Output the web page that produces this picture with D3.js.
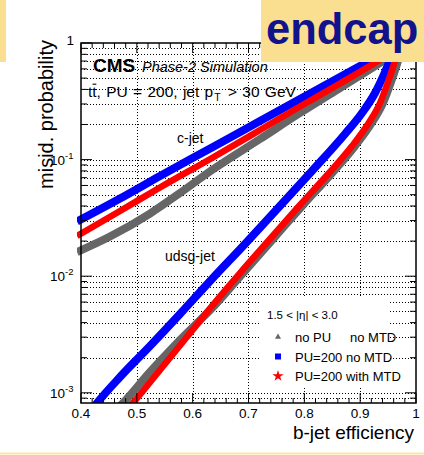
<!DOCTYPE html>
<html><head><meta charset="utf-8">
<script src="https://cdn.jsdelivr.net/npm/d3@7/dist/d3.min.js"></script>
<style>
body{margin:0;background:#fff}
svg{display:block}
text{font-family:"Liberation Sans",Arial,Helvetica,sans-serif;fill:#000}
</style>
</head><body>
<svg id="c" width="424" height="455"></svg>
<script>
// ---------------- data (b-jet efficiency, misid. probability) ----------------
const xTickValues = [0.4, 0.5, 0.6, 0.7, 0.8, 0.9, 1.0];
const xTickLabels = ["0.4", "0.5", "0.6", "0.7", "0.8", "0.9", "1"];
const yTickValues = [1e-3, 1e-2, 1e-1, 1];
const yTickExponents = ["-3", "-2", "-1", ""];
const seriesLabels = ["no PU", "PU=200 no MTD", "PU=200 with MTD"];
const seriesColors = ["#666666", "#0000ff", "#ff0000"];
const etaLabel = "1.5 < |η| < 3.0";

// c-jet misidentification curves
const cjetNoPUEff  = [0.3928, 0.4519, 0.5236, 0.5773, 0.6346, 0.7206, 0.7922, 0.8639, 0.9230, 0.9893];
const cjetNoPUMis  = [0.01612, 0.02190, 0.03449, 0.05171, 0.08144, 0.1502, 0.2510, 0.4113, 0.6165, 1.0];
const cjetPU200Eff = [0.3928, 0.4699, 0.5415, 0.6346, 0.7206, 0.7922, 0.8639, 0.9230, 0.9749];
const cjetPU200Mis = [0.02944, 0.04638, 0.07233, 0.1270, 0.2143, 0.3309, 0.5110, 0.7292, 1.0];
const cjetMTDEff   = [0.3928, 0.4699, 0.5415, 0.6346, 0.7206, 0.7922, 0.8639, 0.9230, 0.9803];
const cjetMTDMis   = [0.02213, 0.03624, 0.05763, 0.1032, 0.1794, 0.2853, 0.4494, 0.6605, 1.0];

// udsg-jet misidentification curves
const udsgNoPUEff  = [0.4591, 0.4752, 0.5236, 0.5773, 0.6400, 0.6902, 0.7439, 0.7976, 0.8496, 0.8908, 0.9194, 0.9409, 0.9552, 0.9660, 0.9767];
const udsgNoPUMis  = [0.000684, 0.000818, 0.001508, 0.002836, 0.005662, 0.01065, 0.02084, 0.04079, 0.07676, 0.1308, 0.2020, 0.3058, 0.4628, 0.6605, 1.0];
const udsgPU200Eff = [0.4161, 0.4287, 0.4699, 0.5236, 0.5773, 0.6346, 0.6937, 0.7546, 0.8137, 0.8728, 0.9033, 0.9266, 0.9445, 0.9570, 0.9660];
const udsgPU200Mis = [0.000684, 0.000818, 0.001366, 0.002520, 0.004740, 0.009462, 0.01889, 0.03923, 0.07985, 0.1658, 0.2510, 0.3726, 0.5640, 0.7891, 1.0];
const udsgMTDEff   = [0.4788, 0.4931, 0.5415, 0.5881, 0.6346, 0.6848, 0.7385, 0.7922, 0.8442, 0.8854, 0.9140, 0.9355, 0.9498, 0.9606, 0.9713];
const udsgMTDMis   = [0.000684, 0.000818, 0.001569, 0.002951, 0.005553, 0.01065, 0.02084, 0.04079, 0.07676, 0.1308, 0.2020, 0.3058, 0.4628, 0.6605, 1.0];

// dashed working-point line level (misid. probability)
const workingPoint = 0.0052;

// ---------------- drawing ----------------
const svg = d3.select("#c");
const X0 = 81, X1 = 416, Y0 = 43, Y1 = 403;
const x = d3.scaleLinear().domain([0.4, 1.0]).range([X0, X1]);
const y = d3.scaleLog().domain([Math.pow(10, -3.0875), 1]).range([Y1, Y0]);

const defs = svg.append("defs");
defs.append("clipPath").attr("id", "plotclip")
  .append("rect").attr("x", 77).attr("y", 20).attr("width", 345).attr("height", Y1 - 20);
const f = defs.append("filter").attr("id", "shadow").attr("x", "-20%").attr("y", "-100%").attr("width", "140%").attr("height", "400%");
f.append("feGaussianBlur").attr("in", "SourceAlpha").attr("stdDeviation", 2).attr("result", "b");
f.append("feOffset").attr("in", "b").attr("dx", 0).attr("dy", 5).attr("result", "o");
f.append("feFlood").attr("flood-color", "#777").attr("flood-opacity", 0.55);
f.append("feComposite").attr("in2", "o").attr("operator", "in").attr("result", "s");
const fm = f.append("feMerge");
fm.append("feMergeNode").attr("in", "s");
fm.append("feMergeNode").attr("in", "SourceGraphic");

// grid
const grid = svg.append("g").attr("stroke", "#000").attr("stroke-width", 1).attr("stroke-dasharray", "1,2");
const yGridVals = y.ticks().filter(v => v < 0.999 && v > y.domain()[0]);
grid.selectAll("line.h").data(yGridVals).join("line")
  .attr("x1", X0).attr("x2", X1).attr("y1", d => Math.round(y(d)) + 0.5).attr("y2", d => Math.round(y(d)) + 0.5);
grid.selectAll("line.v").data(xTickValues.slice(1, -1)).join("line")
  .attr("y1", Y0).attr("y2", Y1).attr("x1", d => Math.round(x(d)) + 0.5).attr("x2", d => Math.round(x(d)) + 0.5);

// curves
const line = d3.line().x(d => x(d[0])).y(d => y(d[1])).curve(d3.curveMonotoneX);
const zip = (a, b) => a.map((v, i) => [v, b[i]]);
const curves = [
  {d: zip(cjetNoPUEff, cjetNoPUMis), c: seriesColors[0], w: 8},
  {d: zip(udsgNoPUEff, udsgNoPUMis), c: seriesColors[0], w: 8},
  {d: zip(cjetPU200Eff, cjetPU200Mis), c: seriesColors[1], w: 8},
  {d: zip(udsgPU200Eff, udsgPU200Mis), c: seriesColors[1], w: 8},
  {d: zip(cjetMTDEff, cjetMTDMis), c: seriesColors[2], w: 6.5},
  {d: zip(udsgMTDEff, udsgMTDMis), c: seriesColors[2], w: 6.5}
];
svg.append("g").attr("clip-path", "url(#plotclip)")
  .selectAll("path").data(curves).join("path")
  .attr("d", d => line(d.d)).attr("fill", "none")
  .attr("stroke", d => d.c).attr("stroke-width", d => d.w);

// axes: frame + ticks
const ax = svg.append("g").attr("stroke", "#000");
ax.append("rect").attr("x", X0).attr("y", Y0).attr("width", X1 - X0).attr("height", Y1 - Y0)
  .attr("fill", "none").attr("stroke-width", 1.5);
const xMinor = d3.range(0, 31).map(i => 0.4 + i * 0.02);
const isMajX = d => xTickValues.some(m => Math.abs(m - d) < 1e-6);
const tk = ax.append("g").attr("stroke-width", 1);
tk.selectAll("line.xb").data(xMinor).join("line")
  .attr("x1", d => x(d)).attr("x2", d => x(d))
  .attr("y1", Y1).attr("y2", d => Y1 - (isMajX(d) ? 10 : 5));
tk.selectAll("line.xt").data(xMinor).join("line")
  .attr("x1", d => x(d)).attr("x2", d => x(d))
  .attr("y1", Y0).attr("y2", d => Y0 + (isMajX(d) ? 10 : 5));
const yAll = y.ticks().filter(v => v >= y.domain()[0]);
const isMajY = v => Math.abs(Math.log10(v) - Math.round(Math.log10(v))) < 1e-6;
tk.selectAll("line.yl").data(yAll).join("line")
  .attr("y1", d => y(d)).attr("y2", d => y(d))
  .attr("x1", X0).attr("x2", d => X0 + (isMajY(d) ? 11 : 6));
tk.selectAll("line.yr").data(yAll).join("line")
  .attr("y1", d => y(d)).attr("y2", d => y(d))
  .attr("x1", X1).attr("x2", d => X1 - (isMajY(d) ? 11 : 6));

// tick labels
svg.append("g").selectAll("text").data(xTickValues).join("text")
  .attr("x", d => x(d)).attr("y", 417.5).attr("text-anchor", "middle")
  .attr("font-size", 13.5).text((d, i) => xTickLabels[i]);
const yl = svg.append("g");
yTickValues.forEach((v, i) => {
  const yy = y(v);
  if (yTickExponents[i] === "") {
    yl.append("text").attr("x", 74).attr("y", yy + 2).attr("text-anchor", "end")
      .attr("font-size", 13.5).text("1");
  } else {
    yl.append("text").attr("x", 65).attr("y", yy + 5).attr("text-anchor", "end")
      .attr("font-size", 13.5).text("10");
    yl.append("text").attr("x", 65).attr("y", yy - 1).attr("text-anchor", "start")
      .attr("font-size", 9.5).text(yTickExponents[i]);
  }
});

// axis titles
svg.append("text").attr("transform", "translate(53,40) rotate(-90)")
  .attr("text-anchor", "end").attr("font-size", 20).text("misid. probability");
svg.append("text").attr("x", 414).attr("y", 439).attr("text-anchor", "end")
  .attr("font-size", 19).text("b-jet efficiency");

// labels inside
svg.append("text").attr("x", 93).attr("y", 72).attr("font-size", 19).attr("font-weight", "bold").text("CMS");
svg.append("text").attr("x", 142).attr("y", 72).attr("font-size", 14.5).attr("font-style", "italic").text("Phase-2 Simulation");
const l2 = svg.append("text").attr("x", 88).attr("y", 97).attr("font-size", 15.5).attr("word-spacing", 1);
l2.append("tspan").text("tt, PU = 200, jet p");
l2.append("tspan").attr("font-size", 10.5).attr("dy", 4).attr("dx", 1).text("T");
l2.append("tspan").attr("dy", -4).attr("dx", 2).text(" > 30 GeV");
// bar over the second t (anti-top)
const ext = l2.node().getExtentOfChar(1);
svg.append("line").attr("x1", ext.x + 0.3).attr("x2", ext.x + ext.width - 0.3)
  .attr("y1", 97 - 12.8).attr("y2", 97 - 12.8).attr("stroke", "#000").attr("stroke-width", 1.1);
svg.append("text").attr("x", 177).attr("y", 143).attr("font-size", 14).text("c-jet");
svg.append("text").attr("x", 165).attr("y", 261).attr("font-size", 14).text("udsg-jet");

// legend
const lg = svg.append("g");
lg.append("rect").attr("x", 261).attr("y", 298).attr("width", 127).attr("height", 90).attr("fill", "#fff");
lg.append("text").attr("x", 267).attr("y", 319).attr("font-size", 11.5).text(etaLabel);
const legY = [337, 356.5, 376];
const syms = [d3.symbolTriangle, d3.symbolSquare, d3.symbolStar];
const symSizes = [16, 36, 40];
seriesLabels.forEach((s, i) => {
  lg.append("path").attr("transform", `translate(278,${legY[i]})`)
    .attr("d", d3.symbol().type(syms[i]).size(symSizes[i])()).attr("fill", seriesColors[i]);
  lg.append("text").attr("x", 295).attr("y", legY[i] + 5).attr("font-size", 13).text(s);
});
lg.append("text").attr("x", 350).attr("y", legY[0] + 5).attr("font-size", 13).text("no MTD");

// dashed working point line with shadow
svg.append("line").attr("x1", 0).attr("x2", 395)
  .attr("y1", y(workingPoint)).attr("y2", y(workingPoint))
  .attr("stroke", "#a0180e").attr("stroke-width", 4.5).attr("stroke-dasharray", "16,12")
  .attr("filter", "url(#shadow)");

// overlay boxes
svg.append("rect").attr("x", 0).attr("y", 0).attr("width", 6).attr("height", 62).attr("fill", "#fbdf90");
svg.append("rect").attr("x", 261).attr("y", 0).attr("width", 163).attr("height", 62).attr("fill", "#fbdf90");
svg.append("text").attr("x", 266).attr("y", 44).attr("font-size", 43.5).attr("font-weight", "bold")
  .style("fill", "#12128c").text("endcap");
svg.append("rect").attr("x", 0).attr("y", 452.5).attr("width", 424).attr("height", 2).attr("fill", "#fce6a0");
</script>
</body></html>
